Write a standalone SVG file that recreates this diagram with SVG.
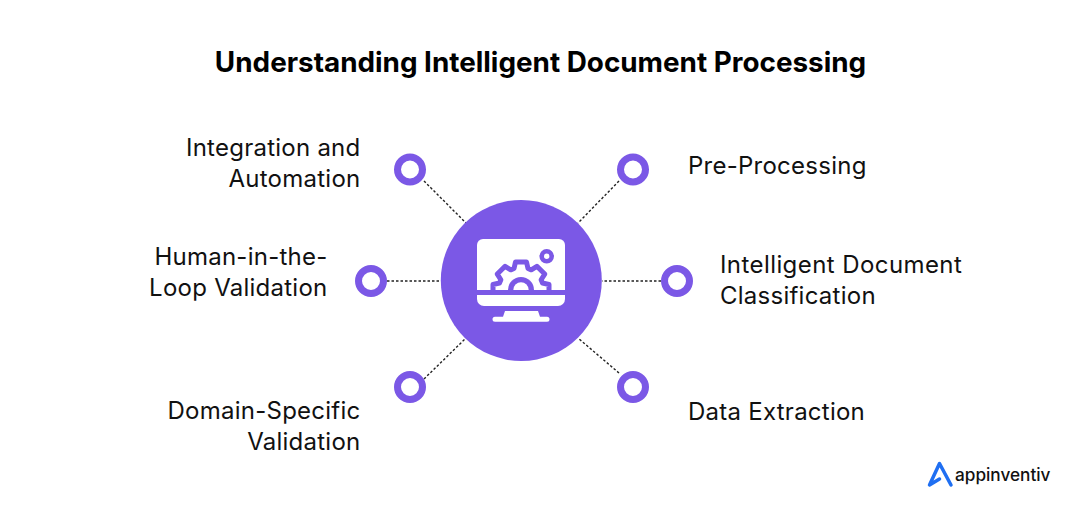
<svg xmlns="http://www.w3.org/2000/svg" width="1080" height="516" viewBox="0 0 1080 516">
<style>
.t{font-family:"Inter","Liberation Sans",sans-serif;font-size:24px;fill:#111;letter-spacing:.25px}
.e{text-anchor:end}
.title{font-family:"Inter","Liberation Sans",sans-serif;font-size:27.85px;font-weight:700;fill:#000;text-anchor:middle}
.ring{fill:#fff;stroke:#7b58e6;stroke-width:7}
.c{stroke:#222;stroke-width:1.4;stroke-dasharray:2.5 2;fill:none}
.w{fill:#fff}
.p{fill:#7b58e6}
</style>
<rect width="1080" height="516" fill="#fff"/>
<text class="title" x="540.500" y="71.500">Understanding Intelligent Document Processing</text>
<g id="connectors">
<line class="c" x1="424" y1="181" x2="466" y2="223"/>
<line class="c" x1="619" y1="181" x2="578" y2="223"/>
<line class="c" x1="387" y1="281" x2="441" y2="281"/>
<line class="c" x1="661" y1="281" x2="602" y2="281"/>
<line class="c" x1="424" y1="379" x2="466" y2="338"/>
<line class="c" x1="619" y1="373" x2="578" y2="338"/>
</g>
<g id="hub">
<circle class="p" cx="521.300" cy="280.500" r="80.500"/>
<path class="w" d="M477 290V245a6 6 0 0 1 6-6h76a6 6 0 0 1 6 6v45z"/>
<path class="w" stroke="#7b58e6" stroke-width="5" stroke-linejoin="round" d="M493 292.500V284.500L499.500 283L500.850 279.750L497.300 274.100L505.100 266.300L510.750 269.850L514 268.500L515.500 262H526.500L528 268.500L531.250 269.850L536.900 266.300L544.700 274.100L541.150 279.750L542.500 283L549 284.500V292.500Z"/>
<path class="p" d="M508 290a13 13 0 0 1 26 0z"/>
<path class="w" d="M513.300 290a7.700 7.700 0 0 1 15.400 0z"/>
<circle cx="546.700" cy="256.300" r="5" fill="#fff" stroke="#7b58e6" stroke-width="4.600"/>
<path class="w" d="M477 295h88v4a7 7 0 0 1-7 7h-74a7 7 0 0 1-7-7z"/>
<path class="w" d="M505 311h33l2 5.700h7a2.500 2.500 0 0 1 0 5h-52a2.500 2.500 0 0 1 0-5h8z"/>
</g>
<g id="node-integration">
<circle class="ring" cx="410" cy="169.500" r="12.500"/>
<text class="t e" x="360.500" y="156">Integration and</text>
<text class="t e" x="360.500" y="187">Automation</text>
</g>
<g id="node-preprocessing">
<circle class="ring" cx="633" cy="169.500" r="12.500"/>
<text class="t" x="688" y="173.500">Pre-Processing</text>
</g>
<g id="node-human">
<circle class="ring" cx="371" cy="281" r="12.500"/>
<text class="t e" x="327.500" y="265">Human-in-the-</text>
<text class="t e" x="327.500" y="296">Loop Validation</text>
</g>
<g id="node-classification">
<circle class="ring" cx="677" cy="281" r="12.500"/>
<text class="t" x="720" y="273" style="letter-spacing:.42px">Intelligent Document</text>
<text class="t" x="720" y="304">Classification</text>
</g>
<g id="node-domain">
<circle class="ring" cx="410" cy="387" r="12.500"/>
<text class="t e" x="360.500" y="419">Domain-Specific</text>
<text class="t e" x="360.500" y="450">Validation</text>
</g>
<g id="node-extraction">
<circle class="ring" cx="633" cy="387" r="12.500"/>
<text class="t" x="688" y="420">Data Extraction</text>
</g>
<g id="logo">
<path d="M951 485L939.500 463.500L929.500 485L939.500 479" fill="none" stroke="#1f6ff2" stroke-width="3.500" stroke-linejoin="round" stroke-linecap="round"/>
<text x="955" y="481" font-family="Inter,'Liberation Sans',sans-serif" font-size="17.200" font-weight="500" fill="#111">appinventiv</text>
</g>
</svg>
